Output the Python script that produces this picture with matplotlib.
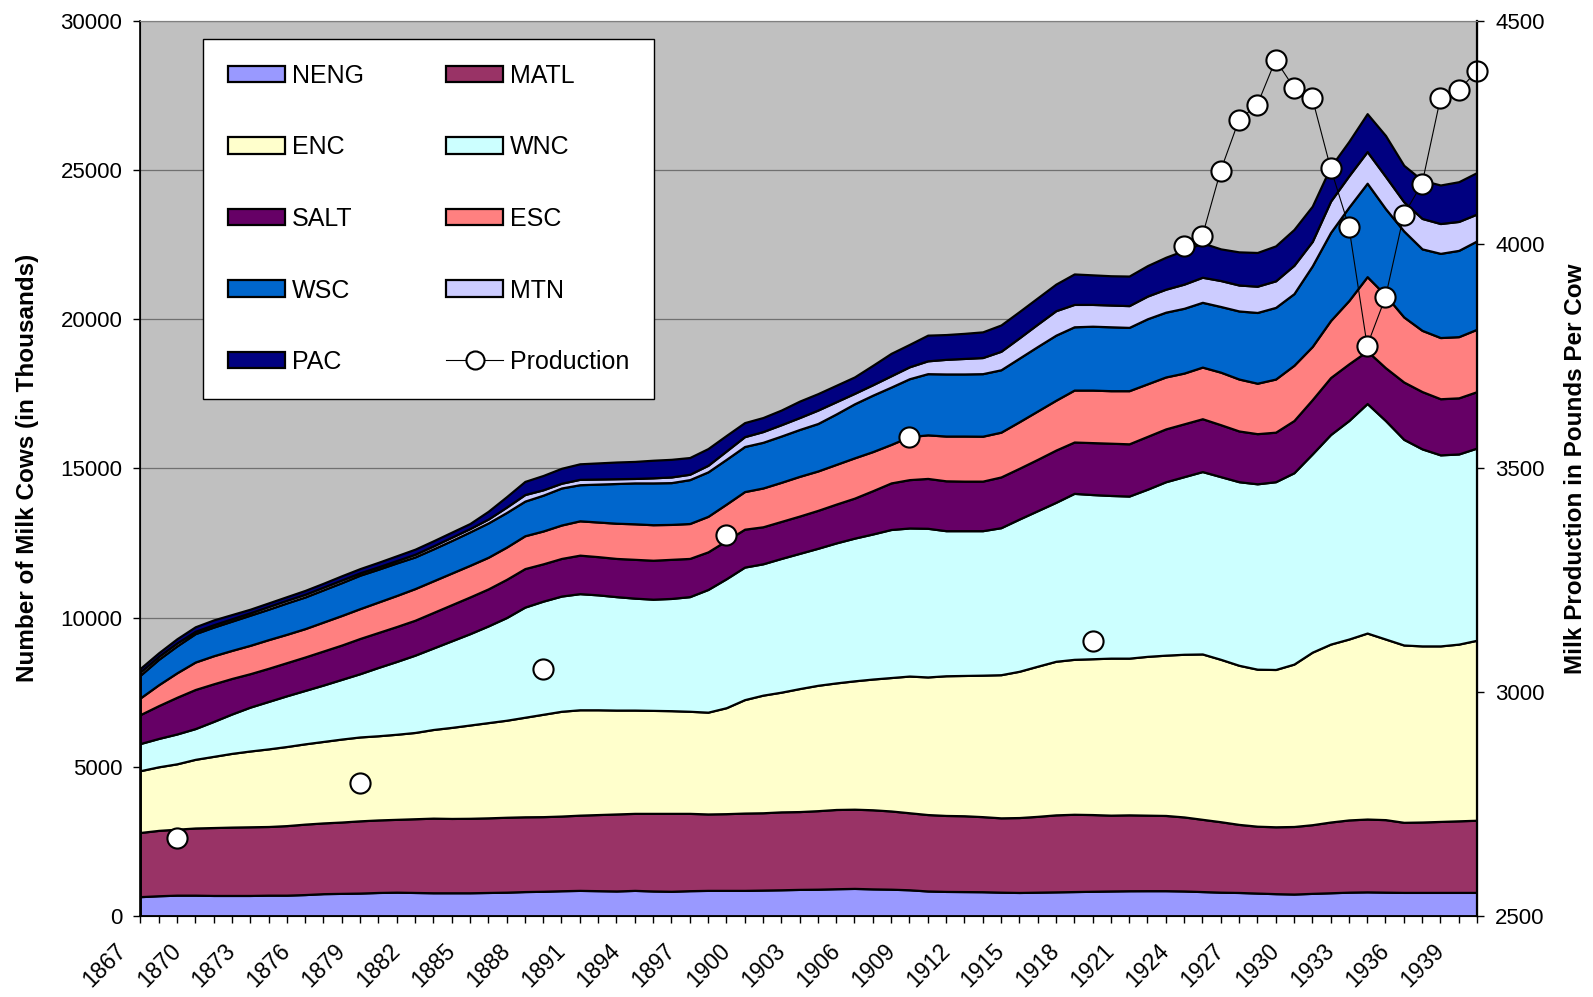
import numpy as np
import matplotlib
matplotlib.use('Agg')
import matplotlib.pyplot as plt
import matplotlib.transforms as mtransforms
from matplotlib.lines import Line2D

plt.rcParams['font.family'] = ['Liberation Sans', 'DejaVu Sans']

years = list(range(1867, 1941))

neng = [650, 680, 700, 700, 690, 690, 690, 700, 700, 720,
        750, 760, 770, 790, 800, 790, 780, 780, 780, 790,
        800, 820, 830, 848, 860, 850, 840, 860, 840, 830,
        850, 860, 860, 860, 870, 880, 893, 900, 915, 926,
        910, 900, 880, 840, 825, 820, 815, 800, 790, 800,
        810, 820, 830, 840, 848, 850, 850, 840, 820, 800,
        790, 770, 750, 737, 760, 780, 800, 810, 800, 792,
        792, 792, 792, 792]
matl = [2150, 2190, 2210, 2250, 2275, 2290, 2300, 2300, 2330, 2360,
        2370, 2390, 2420, 2430, 2440, 2470, 2500, 2490, 2495, 2500,
        2510, 2505, 2500, 2502, 2520, 2550, 2580, 2580, 2600, 2610,
        2590, 2560, 2570, 2590, 2590, 2610, 2607, 2630, 2655, 2654,
        2650, 2620, 2580, 2560, 2545, 2540, 2515, 2490, 2510, 2540,
        2580, 2590, 2570, 2540, 2542, 2530, 2520, 2480, 2420, 2360,
        2280, 2240, 2240, 2263, 2300, 2370, 2420, 2440, 2430, 2348,
        2358, 2378, 2398, 2418]
enc = [2070, 2130, 2190, 2300, 2385, 2470, 2540, 2600, 2650, 2690,
       2730, 2780, 2810, 2820, 2850, 2890, 2970, 3050, 3125, 3190,
       3250, 3335, 3430, 3510, 3530, 3510, 3480, 3460, 3450, 3440,
       3420, 3410, 3550, 3800, 3940, 4010, 4120, 4200, 4240, 4300,
       4380, 4470, 4580, 4610, 4680, 4700, 4740, 4795, 4900, 5030,
       5145, 5190, 5220, 5260, 5250, 5320, 5370, 5450, 5540, 5440,
       5330, 5260, 5270, 5440, 5780, 5960, 6060, 6230, 6050, 5940,
       5900, 5880, 5920, 6030]
wnc = [910, 950, 1000, 1030, 1170, 1320, 1470, 1590, 1700, 1790,
       1890, 2000, 2120, 2290, 2440, 2590, 2730, 2900, 3060, 3240,
       3440, 3690, 3790, 3860, 3890, 3850, 3800, 3750, 3725, 3760,
       3840, 4110, 4320, 4440, 4400, 4480, 4530, 4590, 4690, 4780,
       4860, 4960, 4960, 4980, 4860, 4850, 4840, 4925, 5100, 5210,
       5325, 5560, 5500, 5450, 5430, 5600, 5810, 5950, 6110, 6120,
       6150, 6210, 6290, 6410, 6640, 7020, 7320, 7690, 7320, 6890,
       6600, 6400, 6370, 6440]
salt = [970, 1100, 1230, 1310, 1260, 1190, 1120, 1110, 1110, 1120,
        1140, 1150, 1180, 1170, 1170, 1170, 1190, 1210, 1230, 1240,
        1280, 1290, 1250, 1260, 1290, 1280, 1280, 1300, 1305, 1310,
        1280, 1260, 1280, 1270, 1240, 1240, 1250, 1270, 1300, 1340,
        1450, 1560, 1620, 1670, 1670, 1660, 1660, 1700, 1700, 1720,
        1750, 1720, 1740, 1750, 1750, 1770, 1770, 1770, 1770, 1740,
        1700, 1680, 1660, 1750, 1820, 1910, 1900, 1760, 1770, 1920,
        1920, 1880, 1880, 1890]
esc = [560, 700, 820, 920, 940, 940, 950, 960, 950, 950,
       970, 990, 1000, 1020, 1040, 1060, 1060, 1060, 1060, 1060,
       1080, 1100, 1100, 1120, 1150, 1160, 1180, 1190, 1190, 1170,
       1170, 1190, 1220, 1260, 1300, 1310, 1330, 1320, 1330, 1350,
       1310, 1290, 1440, 1460, 1500, 1510, 1505, 1500, 1560, 1620,
       1670, 1740, 1760, 1760, 1780, 1760, 1740, 1700, 1730, 1760,
       1740, 1690, 1780, 1850, 1780, 1910, 2120, 2490, 2430, 2180,
       2050, 2050, 2050, 2090]
wsc = [760, 850, 900, 950, 960, 980, 1010, 1020, 1050, 1060,
       1080, 1100, 1120, 1100, 1090, 1060, 1070, 1090, 1120, 1150,
       1160, 1160, 1200, 1240, 1210, 1270, 1330, 1370, 1400, 1400,
       1470, 1490, 1500, 1510, 1530, 1550, 1570, 1590, 1690, 1810,
       1890, 1920, 1940, 2050, 2080, 2080, 2095, 2090, 2130, 2160,
       2180, 2120, 2140, 2140, 2120, 2180, 2170, 2170, 2170, 2200,
       2280, 2370, 2400, 2400, 2700, 2950, 3130, 3130, 2900, 2880,
       2730, 2820, 2890, 2960]
mtn = [110, 100, 100, 80, 80, 80, 80, 90, 90, 90,
       90, 90, 80, 80, 80, 90, 100, 110, 110, 130,
       180, 220, 180, 160, 180, 170, 160, 150, 170, 190,
       180, 220, 280, 330, 360, 380, 400, 450, 410, 350,
       350, 380, 400, 430, 490, 520, 540, 620, 680, 750,
       820, 750, 730, 730, 730, 760, 770, 810, 840, 870,
       870, 880, 890, 950, 820, 1050, 1050, 1060, 1080, 980,
       1020, 1000, 970, 900]
pac = [120, 120, 140, 150, 160, 140, 120, 120, 120, 130,
       130, 140, 140, 150, 160, 170, 170, 170, 170, 260,
       350, 440, 480, 500, 520, 540, 560, 570, 590, 590,
       560, 560, 520, 470, 470, 490, 550, 550, 550, 550,
       650, 750, 750, 860, 830, 840, 860, 880, 880, 880,
       890, 1020, 990, 980, 990, 1020, 1070, 1130, 1150, 1060,
       1110, 1130, 1170, 1200, 1180, 1150, 1150, 1270, 1370, 1220,
       1280, 1290, 1330, 1390]

# milk production per cow, only some years are available
prod_years = [1869, 1879, 1889, 1899, 1909, 1919,
              1924, 1925, 1926, 1927, 1928, 1929, 1930, 1931, 1932,
              1933, 1934, 1935, 1936, 1937, 1938, 1939, 1940]
prod_values = [2675, 2797, 3051, 3352, 3570, 3115,
               3997, 4019, 4165, 4278, 4312, 4412, 4350, 4327, 4171,
               4040, 3774, 3882, 4066, 4136, 4326, 4344, 4388]

regions = ['NENG', 'MATL', 'ENC', 'WNC', 'SALT', 'ESC', 'WSC', 'MTN', 'PAC']
colors = ['#9999FF', '#993366', '#FFFFCC', '#CCFFFF', '#660066',
          '#FF8080', '#0066CC', '#CCCCFF', '#000080']

production = [np.nan] * len(years)
for y, v in zip(prod_years, prod_values):
    production[years.index(y)] = v

fig = plt.figure(figsize=(15.93, 9.97), dpi=100)
ax = fig.add_axes([0.0881, 0.0812, 0.8391, 0.8982])
ax.set_facecolor('#C0C0C0')

polys = ax.stackplot(years, neng, matl, enc, wnc, salt, esc, wsc, mtn, pac,
                     colors=colors, edgecolor='black', linewidth=1.6)

ax.set_xlim(1867, 1940)
ax.set_ylim(0, 30000)
ax.set_yticks(range(0, 30001, 5000))
ax.set_xticks(range(1867, 1941, 3))
ax.set_xticks(years, minor=True)
ax.yaxis.grid(True, color='#707070', linewidth=0.9)
ax.set_axisbelow(True)

ax.tick_params(axis='both', which='both', direction='out', length=5, width=1)
ax.tick_params(axis='y', labelsize=16, pad=8)
ax.tick_params(axis='x', which='major', labelsize=16.5, pad=12)
for lbl in ax.get_xticklabels():
    lbl.set_rotation(45)
    lbl.set_ha('right')
    lbl.set_va('top')
    lbl.set_transform(lbl.get_transform() + mtransforms.ScaledTranslation(-0.10, 0, fig.dpi_scale_trans))

ax.set_ylabel('Number of Milk Cows (in Thousands)', fontsize=17.5, fontweight='bold', labelpad=15)

for side in ['left', 'bottom']:
    ax.spines[side].set_color('black')
    ax.spines[side].set_linewidth(1.2)
ax.spines['top'].set_color('#808080')
ax.spines['right'].set_color('black')

ax2 = ax.twinx()
ax2.plot(years, production, color='black', linewidth=0.8, marker='o', markersize=14.5,
         markerfacecolor='white', markeredgecolor='black', markeredgewidth=1.5, clip_on=False)
ax2.set_ylim(2500, 4500)
ax2.set_yticks(range(2500, 4501, 500))
ax2.tick_params(axis='y', direction='out', length=5, width=1, labelsize=16, pad=8)
ax2.spines['right'].set_linewidth(1.6)
ax2.spines['right'].set_color('black')
ax2.spines['top'].set_color('#808080')
ax2.set_ylabel('Milk Production in Pounds Per Cow', fontsize=17.5, fontweight='bold', labelpad=14)

# legend: filled row by row like the original
prod_handle = Line2D([], [], color='black', linewidth=0.8, marker='o', markersize=13,
                     markerfacecolor='white', markeredgecolor='black', markeredgewidth=1.5)
handles = [polys[0], polys[2], polys[4], polys[6], polys[8],
           polys[1], polys[3], polys[5], polys[7], prod_handle]
labels = ['NENG', 'ENC', 'SALT', 'WSC', 'PAC',
          'MATL', 'WNC', 'ESC', 'MTN', 'Production']
leg = ax2.legend(handles, labels, ncol=2, loc='upper left',
                 bbox_to_anchor=(203 / 1593, 1 - 39 / 997), bbox_transform=fig.transFigure,
                 fontsize=18, frameon=True, fancybox=False, framealpha=1,
                 edgecolor='black', borderpad=1.0, labelspacing=1.9,
                 handlelength=2.28, handleheight=0.64, handletextpad=0.28,
                 columnspacing=3.28, borderaxespad=0)
leg.get_frame().set_linewidth(1.0)

fig.savefig('out.png', dpi=100, facecolor='white')
